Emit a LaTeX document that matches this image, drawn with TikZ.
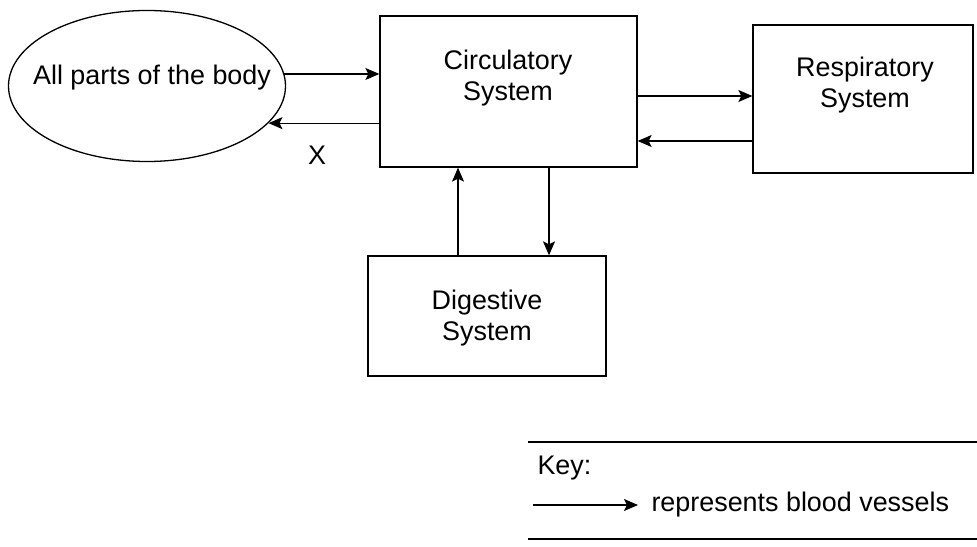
\documentclass[tikz,border=0pt]{standalone}
\usepackage{fontspec}
\setmainfont{Liberation Sans}
\usetikzlibrary{arrows.meta,shapes.geometric}
\begin{document}
\begin{tikzpicture}[x=1bp, y=-1bp, font=\fontsize{27}{32}\selectfont,
    sysbox/.style={draw, line width=1.3bp, inner sep=0pt},
    flow/.style={line width=1.2bp, -{Stealth[length=14bp,width=12bp,inset=3bp]}}]
  \useasboundingbox (0,0) rectangle (977,547);
  % the body and the three systems
  \node[sysbox, ellipse, minimum width=277bp, minimum height=151bp] (body) at (147,86) {};
  \node (body-txt) at (152,78) {All parts of the body};
  \node[sysbox, minimum width=257bp, minimum height=151bp] (circ) at (508.5,91.5) {};
  \node[align=center] (circ-txt) at (508,78) {Circulatory\\System};
  \node[sysbox, minimum width=220bp, minimum height=148bp] (resp) at (863,99) {};
  \node[align=center] (resp-txt) at (865,85) {Respiratory\\System};
  \node[sysbox, minimum width=238bp, minimum height=120bp] (dig) at (487,316) {};
  \node[align=center] (dig-txt) at (487,318) {Digestive\\System};
  \node (x-lbl) at (317,155) {X};
  % blood vessels
  \coordinate (c2r) at ([yshift=-4.5bp]circ.east);
  \coordinate (r2c) at ([yshift=-49.5bp]circ.east);
  \coordinate (d2c) at ([xshift=-50.5bp]circ.south);
  \coordinate (c2d) at ([xshift=40.5bp]circ.south);
  \draw[flow] (body.5) -- (body.5 -| circ.west);
  \draw[flow] (circ.west |- body.-17) -- (body.-17);
  \draw[flow] (c2r) -- (c2r -| resp.west);
  \draw[flow] (r2c -| resp.west) -- (r2c);
  \draw[flow] (d2c |- dig.north) -- (d2c);
  \draw[flow] (c2d) -- (c2d |- dig.north);
  % key
  \draw[line width=1.3bp] (528,442) -- (977,442);
  \draw[line width=1.3bp] (528,539) -- (977,539);
  \node[anchor=west] (key) at (534,468) {Key:};
  \node[anchor=west] (key-txt) at (648,505) {represents blood vessels};
  \coordinate (key-tail) at (533,505);
  \draw[flow] (key-tail) -- ([xshift=-10bp]key-txt.west);
\end{tikzpicture}
\end{document}
